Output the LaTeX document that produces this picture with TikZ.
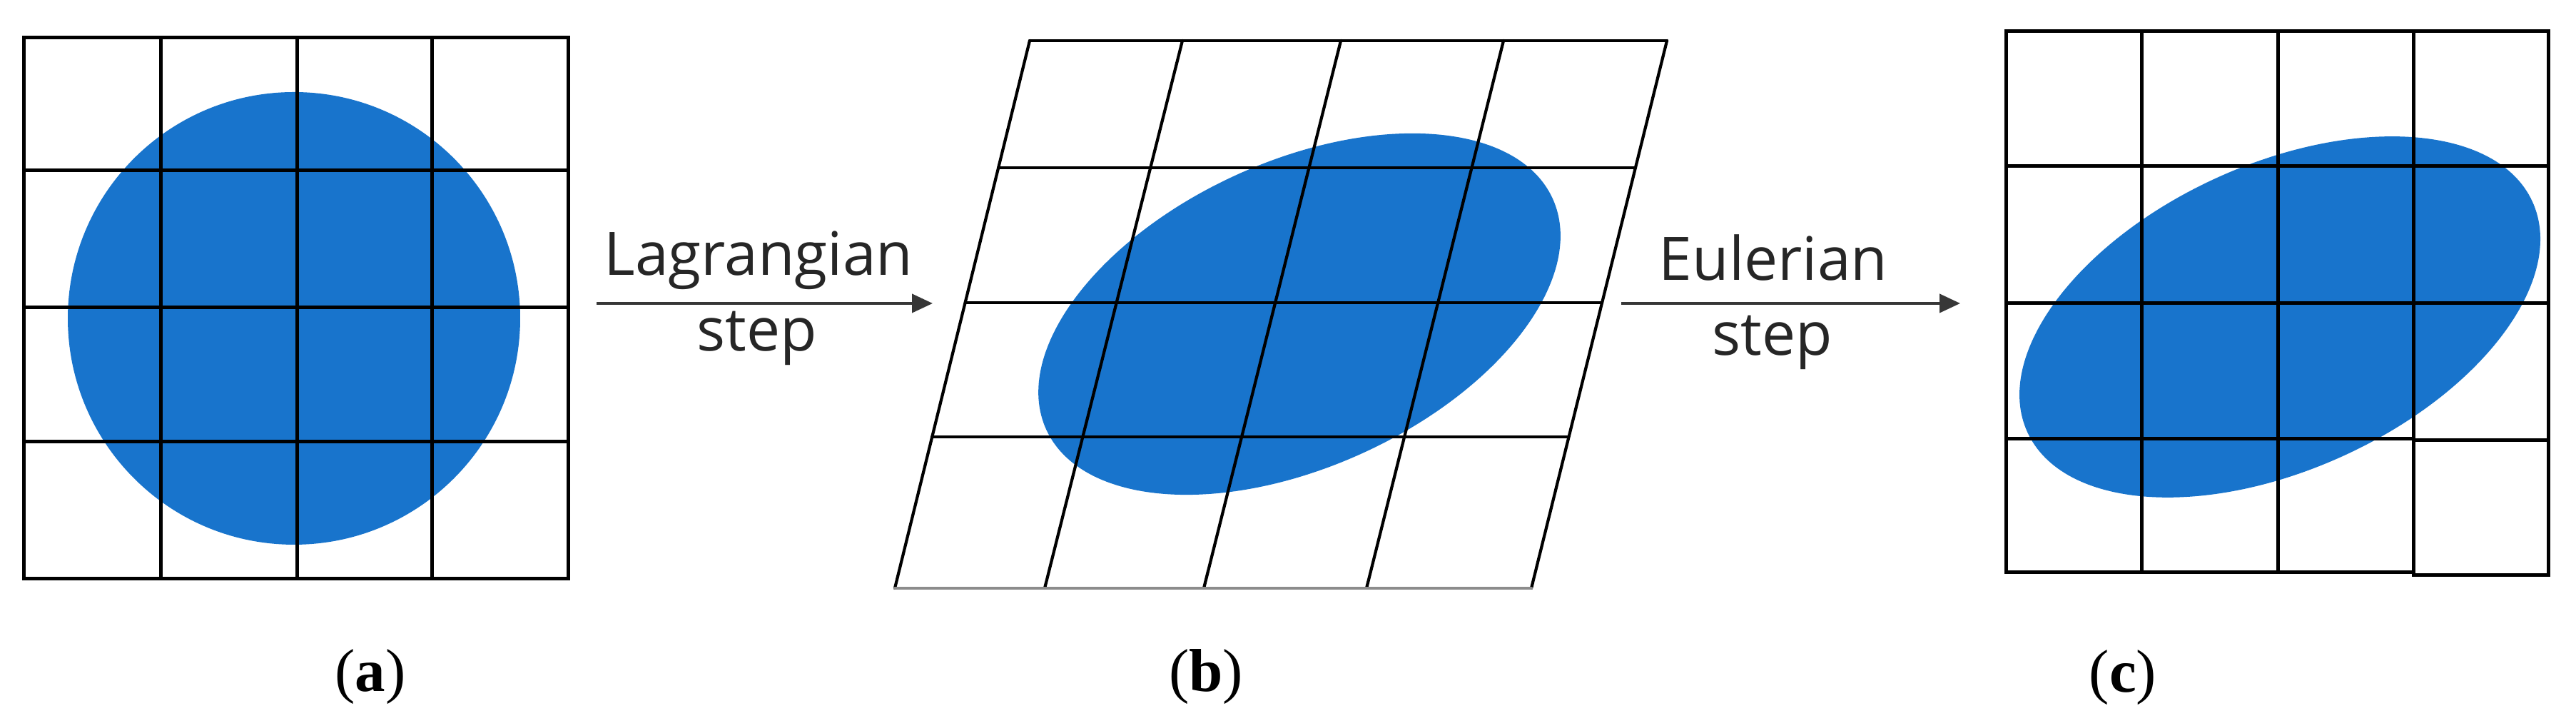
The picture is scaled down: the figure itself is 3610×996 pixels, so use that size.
\documentclass[tikz,border=0pt]{standalone}
\usepackage{fontspec}
\setmainfont{Liberation Serif}
\newfontfamily\stepfont{Open Sans}
\usetikzlibrary{arrows.meta}
\definecolor{fluid}{RGB}{24,116,204}
\definecolor{arrowgray}{RGB}{55,55,55}
\begin{document}
\begin{tikzpicture}[x=0.1pt,y=-0.1pt,
  gridline/.style={line width=0.5pt, draw=black, line cap=rect},
  shearline/.style={line width=0.42pt, draw=black, line cap=round},
  blob/.style={fill=fluid, draw=none},
  steparrow/.style={line width=0.4pt, draw=arrowgray, -{Triangle[length=2.9pt,width=2.6pt]}},
  steptext/.style={font=\stepfont\fontsize{8.4pt}{10pt}\selectfont, text=black!85, anchor=base, inner sep=0pt},
  panellabel/.style={font=\fontsize{8.5pt}{10pt}\selectfont, anchor=base, inner sep=0pt}]
\useasboundingbox (0,0) rectangle (3610,996);
\fill[white] (0,0) rectangle (3610,996);

% ---------- (a) ----------
\fill[blob] (412,446) circle[radius=31.7pt];
\foreach \x in {33.6,225,416,605,796} \draw[gridline] (\x,52.6) -- (\x,811);
\foreach \y in {52.6,238.5,431,619,811} \draw[gridline] (33.6,\y) -- (796,\y);

% ---------- (b) ----------
\begin{scope}[shift={(1821,440)}, rotate=24.5]
  \fill[blob] (0,0) ellipse[x radius=39pt, y radius=21.4pt];
\end{scope}
\draw[shearline] (1254,824) -- (1443,57);
\draw[shearline] (1464,824) -- (1657,57);
\draw[shearline] (1687,824) -- (1879,57);
\draw[shearline] (1915,824) -- (2107,57);
\draw[shearline] (2146,824) -- (2336,57);
\draw[shearline] (1443,57) -- (2336,57);
\draw[shearline] (1399,235) -- (2292,235);
\draw[shearline] (1353,424) -- (2245,424);
\draw[shearline] (1306,612) -- (2198,612);
\draw[shearline, draw=black!45] (1254,824) -- (2146,824);

% ---------- (c) ----------
\begin{scope}[shift={(3195,444)}, rotate=24.5]
  \fill[blob] (0,0) ellipse[x radius=38.9pt, y radius=21.4pt];
\end{scope}
\foreach \x in {2811,3001,3192} \draw[gridline] (\x,44) -- (\x,802);
\foreach \x in {3382,3571} \draw[gridline] (\x,44) -- (\x,806);
\foreach \y in {44,233,425} \draw[gridline] (2811,\y) -- (3571,\y);
\draw[gridline] (2811,615) -- (3382,615);
\draw[gridline] (3382,617) -- (3571,617);
\draw[gridline] (2811,802) -- (3382,802);
\draw[gridline] (3382,806) -- (3571,806);

% ---------- arrows and texts ----------
\coordinate (lagA) at (836,425);
\coordinate (lagB) at (1307,425);
\coordinate (eulA) at (2272,425);
\coordinate (eulB) at (2747,425);
\draw[steparrow] (lagA) -- (lagB);
\draw[steparrow] (eulA) -- (eulB);
\node[steptext] (lag1) at (1063,386) {Lagrangian};
\node[steptext] (lag2) at (1061,492) {step};
\node[steptext] (eul1) at (2485,393) {Eulerian};
\node[steptext] (eul2) at (2484,498) {step};

\node[panellabel] (la) at (519,969) {(\textbf{a})};
\node[panellabel] (lb) at (1690,969) {(\textbf{b})};
\node[panellabel] (lc) at (2975,970) {(\textbf{c})};
\end{tikzpicture}
\end{document}
